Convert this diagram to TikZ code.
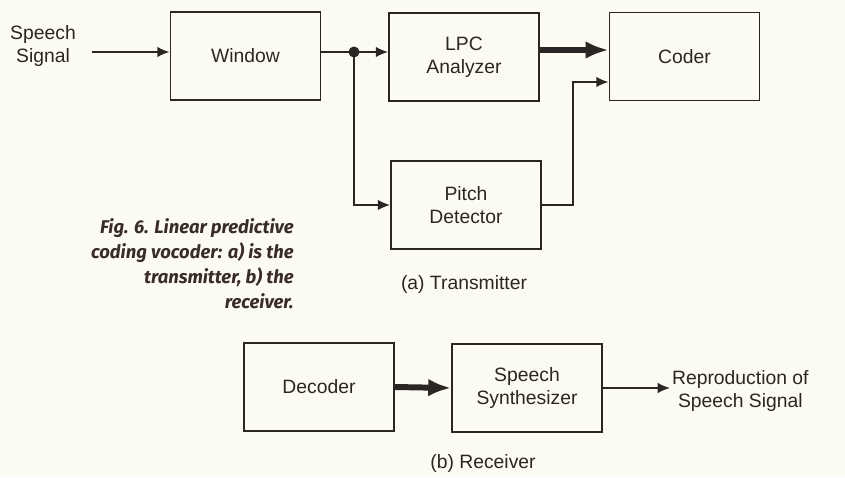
\documentclass[tikz,border=0pt]{standalone}
\usepackage{fontspec}
\setmainfont{Liberation Sans}
\newfontfamily\capfont{Fira Sans}
\usetikzlibrary{arrows.meta,positioning,calc}
\definecolor{paper}{HTML}{FCFBF2}
\definecolor{ink}{HTML}{2A2624}
\definecolor{capink}{HTML}{3A2B2B}
\tikzset{
  block/.style={
    draw=ink,
    line width=1.1pt,
    minimum width=3cm,
    minimum height=1.76cm,
    align=center,
    inner sep=2pt,
    font=\fontsize{11}{13}\selectfont,
    text=ink
  },
  label/.style={align=center, inner sep=1pt, font=\fontsize{11}{13}\selectfont, text=ink},
  sig/.style={-{Latex[length=7pt,width=6pt]}, draw=ink, line width=0.9pt},
  bus/.style={-{Latex[length=13pt,width=10pt]}, draw=ink, line width=3.4pt},
  caption/.style={align=right, inner sep=0pt, text=capink,
    font=\capfont\bfseries\itshape\fontsize{10.5}{14.2}\selectfont}
}

\begin{document}
\begin{tikzpicture}[x=0.02cm, y=-0.02cm]
  \fill[paper] (0,0) rectangle (845,477);
  \useasboundingbox (0,0) rectangle (845,477);

  % (a) transmitter
  \node[label] (speech) at (43,46) {Speech\\Signal};
  \node[block] (window) at (245.5,56) {Window};
  \node[block] (lpc) at (464,57) {LPC\\Analyzer};
  \node[block] (coder) at (684.5,56.5) {Coder};
  \node[block] (pitch) at (466,205) {Pitch\\Detector};
  \coordinate (in) at (92,52);
  \coordinate (dot) at (354,52);
  \coordinate (busy) at (574,50);
  \coordinate (bend) at (573,82);

  \draw[sig] (in) -- (in -| window.west);
  \draw[draw=ink, line width=0.9pt] (window.east |- dot) -- (dot);
  \fill[ink] (dot) circle (5.5);
  \draw[sig] (dot) -- (lpc.west |- dot);
  \draw[sig] (dot) |- (pitch.west);
  \draw[bus] (lpc.east |- busy) -- (coder.west |- busy);
  \draw[sig] (pitch.east) -| (bend) -- (coder.west |- bend);

  \node[label] (txcap) at (464,284) {(a) Transmitter};

  \node[caption, anchor=north east] (figcap) at (294,218)
    {Fig. 6. Linear predictive\\coding vocoder: a) is the\\transmitter, b) the\\receiver.};

  % (b) receiver
  \node[block] (decoder) at (319,387) {Decoder};
  \node[block] (synth) at (527,388) {Speech\\Synthesizer};
  \node[label, anchor=west] (repro) at (670,391) {Reproduction of\\Speech Signal};

  \draw[bus] (decoder.east) -- (synth.west);
  \draw[sig] (synth.east) -- (synth.east -| repro.west);

  \node[label] (rxcap) at (483,463) {(b) Receiver};
\end{tikzpicture}
\end{document}
